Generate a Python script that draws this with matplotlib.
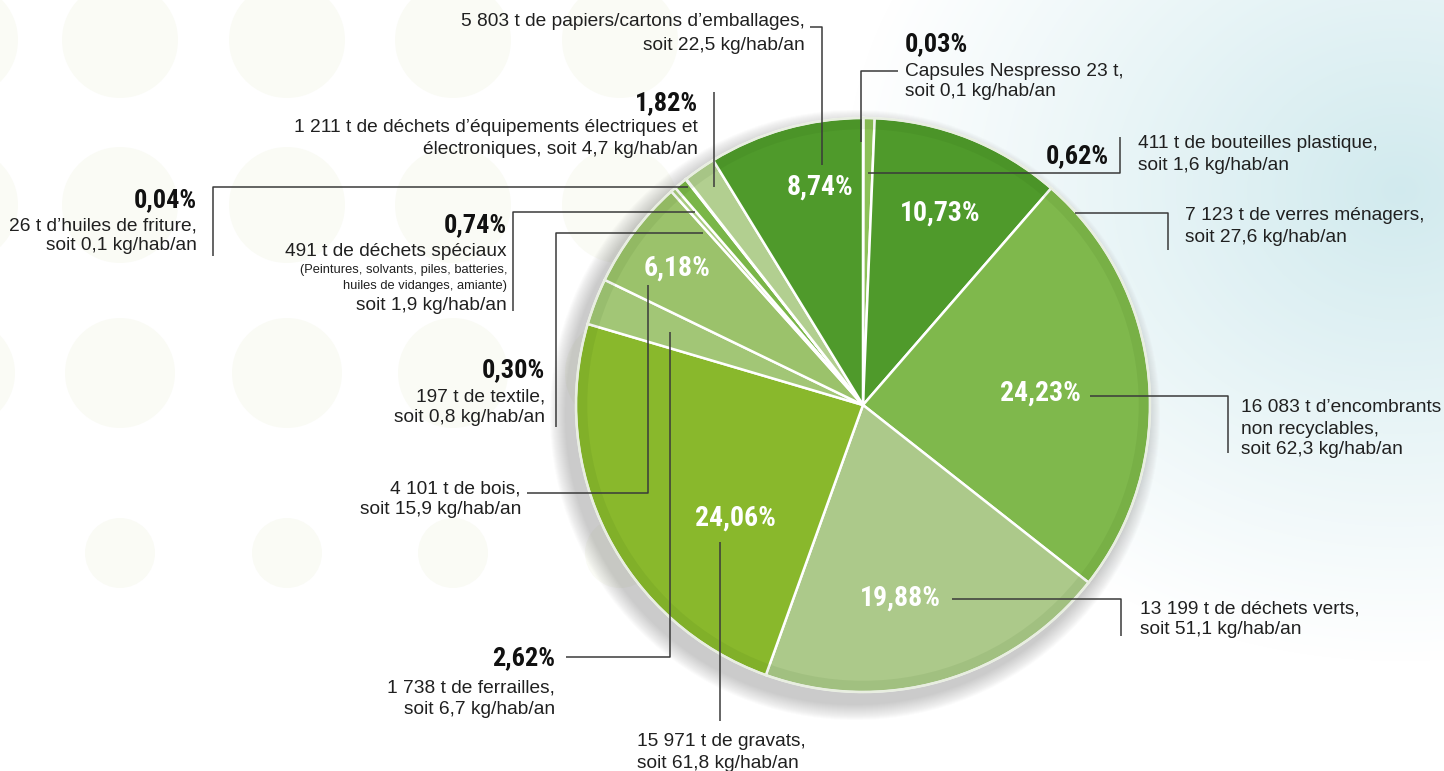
import numpy as np
import matplotlib
matplotlib.use("Agg")
import matplotlib.pyplot as plt
from matplotlib import font_manager
from matplotlib.patches import Circle

# data (clockwise from 12 o'clock)
categories = ["Capsules Nespresso", "Bouteilles plastique", "Verres ménagers",
              "Encombrants non recyclables", "Déchets verts", "Gravats", "Ferrailles",
              "Bois", "Textile", "Déchets spéciaux", "Huiles de friture", "DEEE",
              "Papiers/cartons d'emballages"]
percent = [0.03, 0.62, 10.73, 24.23, 19.88, 24.06, 2.62, 6.18, 0.30, 0.74, 0.04, 1.82, 8.74]
tonnes = [23, 411, 7123, 16083, 13199, 15971, 1738, 4101, 197, 491, 26, 1211, 5803]
kg_hab = [0.1, 1.6, 27.6, 62.3, 51.1, 61.8, 6.7, 15.9, 0.8, 1.9, 0.1, 4.7, 22.5]
colors = ["#a9d07a", "#8cc158", "#4f9a2b", "#7fb84c", "#acc98a", "#89b82c", "#a2c676",
          "#9bc26b", "#a9cc80", "#7ab648", "#a6c43a", "#b2cf90", "#4f9a2b"]

W, H = 1444, 771
CX, CY, R = 863, 405, 287

names = {f.name for f in font_manager.fontManager.ttflist}
narrow = [f for f in ["Liberation Sans Narrow", "DejaVu Sans Condensed", "Roboto Condensed"] if f in names]
BOLD = narrow + ["Liberation Sans", "DejaVu Sans"]
BODY = ["Liberation Sans", "DejaVu Sans"]
FS = 13.8


def tn(v):
    return f"{v:,}".replace(",", " ")


def fr(v):
    return f"{v:.2f}".replace(".", ",") + "%"


def kgs(v):
    return f"soit {v:.1f}".replace(".", ",") + " kg/hab/an"


fig = plt.figure(figsize=(W / 100, H / 100), dpi=100)
ax = fig.add_axes([0, 0, 1, 1])

# background: pale circles + bluish haze on the right
yy, xx = np.mgrid[0:H, 0:W]
d = np.hypot((xx - 1400) / 1.3, (yy - 190) / 1.1)
a = np.clip(1 - d / 430, 0, 1) ** 1.0 * 0.8
bg = np.zeros((H, W, 4))
bg[..., 0], bg[..., 1], bg[..., 2] = 0.78, 0.90, 0.92
bg[..., 3] = a
ax.imshow(bg, extent=[0, W, H, 0], zorder=0, interpolation="bilinear")
for cy, rr in [(40, 58), (205, 58), (373, 55), (553, 35)]:
    for cx in [-40, 120, 287, 453, 620]:
        ax.add_patch(Circle((cx, cy), rr, color="#fafbf5", zorder=0.5, lw=0))

# soft shadow
for k in range(16):
    ax.add_patch(Circle((CX - 8, CY + 10), R + 18 - k, color="#707070", alpha=0.022,
                        lw=0, zorder=1))

wedges, _ = ax.pie(percent, colors=colors, startangle=-90, counterclock=True,
                   center=(CX, CY), radius=R,
                   wedgeprops=dict(edgecolor="white", linewidth=1.8))
for w in wedges:
    w.set_zorder(2)
ax.add_patch(Circle((CX, CY), R - 5, fill=False, lw=9, ec="#1e4a05", alpha=0.07, zorder=3))
ax.add_patch(Circle((CX, CY), R, fill=False, lw=1.5, ec="#e8eee0", zorder=3))

ax.set_xlim(0, W)
ax.set_ylim(H, 0)
ax.set_aspect("equal")
ax.axis("off")

# percentages inside the big slices
inside = {12: (820, 187), 2: (940, 213), 3: (1040, 393), 4: (900, 598),
          5: (735, 518), 7: (677, 268)}
for i, (x, y) in inside.items():
    ax.text(x, y, fr(percent[i]), color="white", fontsize=20, fontweight="bold",
            family=BOLD, ha="center", va="center", zorder=5)

LC = "#3a3a3a"


def leader(pts):
    p = np.array(pts, dtype=float)
    ax.plot(p[:, 0], p[:, 1], color=LC, lw=1.1, zorder=6, solid_capstyle="butt")


def lines(x, ys, texts, ha="left", sizes=None):
    for k, (y, t) in enumerate(zip(ys, texts)):
        s = FS if sizes is None else sizes[k]
        ax.text(x, y, t, fontsize=s, family=BODY, color="#202020", ha=ha, va="center", zorder=6)


def pct(x, y, i, ha="right"):
    ax.text(x, y, fr(percent[i]), fontsize=19, fontweight="bold", family=BOLD,
            color="#111111", ha=ha, va="center", zorder=6)


# 12 papiers
lines(805, [22, 46], [f"{tn(tonnes[12])} t de papiers/cartons d’emballages,", kgs(kg_hab[12])], "right")
leader([(810, 27), (822, 27), (822, 165)])
# 0 nespresso
pct(905, 44, 0, "left")
lines(905, [71, 91], [f"Capsules Nespresso {tonnes[0]} t,", kgs(kg_hab[0])])
leader([(898, 71), (861, 71), (861, 142)])
# 1 bouteilles
pct(1109, 156, 1)
leader([(1120, 137), (1120, 173), (868, 173)])
lines(1138, [144, 165], [f"{tn(tonnes[1])} t de bouteilles plastique,", kgs(kg_hab[1])])
# 2 verres
leader([(1075, 213), (1168, 213), (1168, 250)])
lines(1185, [215, 238], [f"{tn(tonnes[2])} t de verres ménagers,", kgs(kg_hab[2])])
# 3 encombrants
leader([(1090, 396), (1228, 396), (1228, 453)])
lines(1241, [407, 429, 450], [f"{tn(tonnes[3])} t d’encombrants", "non recyclables,", kgs(kg_hab[3])])
# 4 déchets verts
leader([(952, 599), (1121, 599), (1121, 636)])
lines(1140, [609, 630], [f"{tn(tonnes[4])} t de déchets verts,", kgs(kg_hab[4])])
# 5 gravats
leader([(720, 542), (720, 721)])
lines(637, [742, 763], [f"{tn(tonnes[5])} t de gravats,", kgs(kg_hab[5])])
# 6 ferrailles
pct(555, 658, 6)
leader([(566, 657), (670, 657), (670, 332)])
lines(555, [688, 709], [f"{tn(tonnes[6])} t de ferrailles,", kgs(kg_hab[6])], "right")
# 7 bois
leader([(527, 493), (648, 493), (648, 285)])
lines(521, [489, 510], [f"{tn(tonnes[7])} t de bois,", kgs(kg_hab[7])], "right")
# 8 textile
pct(545, 370, 8)
lines(545, [397, 417], [f"{tn(tonnes[8])} t de textile,", kgs(kg_hab[8])], "right")
leader([(556, 427), (556, 233), (703, 233)])
# 9 déchets spéciaux
pct(507, 225, 9)
lines(507, [252, 270, 286, 306],
      [f"{tn(tonnes[9])} t de déchets spéciaux", "(Peintures, solvants, piles, batteries,",
       "huiles de vidanges, amiante)", kgs(kg_hab[9])], "right", [FS, 9.3, 9.3, FS])
leader([(513, 311), (513, 212), (695, 212)])
# 10 huiles
pct(197, 200, 10)
lines(197, [226, 246], [f"{tn(tonnes[10])} t d’huiles de friture,", kgs(kg_hab[10])], "right")
leader([(213, 256), (213, 187), (688, 187)])
# 11 DEEE
pct(698, 103, 11)
lines(698, [128, 149], [f"{tn(tonnes[11])} t de déchets d’équipements électriques et",
                        f"électroniques, {kgs(kg_hab[11])}"], "right")
leader([(714, 92), (714, 187)])

fig.savefig("out.png", dpi=100, facecolor="white")
